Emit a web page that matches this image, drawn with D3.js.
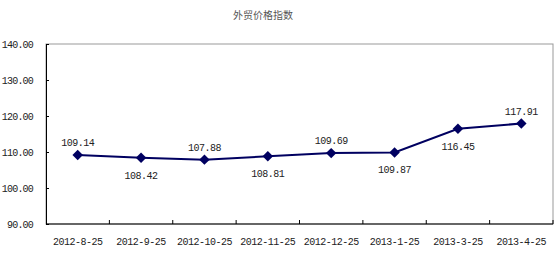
<!DOCTYPE html>
<html>
<head>
<meta charset="utf-8">
<script src="https://cdn.jsdelivr.net/npm/d3@7"></script>
<style>
  body { margin: 0; background: #fff; }
</style>
</head>
<body>
<svg id="chart" width="560" height="257"></svg>
<script>
const categories = ['2012-8-25', '2012-9-25', '2012-10-25', '2012-11-25', '2012-12-25', '2013-1-25', '2013-3-25', '2013-4-25'];
const values = [109.14, 108.42, 107.88, 108.81, 109.69, 109.87, 116.45, 117.91];
// label above (true) or below (false) the point
const labelAbove = [true, false, true, false, true, false, false, true];
const yTicks = [90, 100, 110, 120, 130, 140];

const svg = d3.select('#chart');
const margin = { left: 46, right: 7, top: 44, bottom: 33 };
const w = 560, h = 257;
const mono = '"Liberation Mono", "DejaVu Sans Mono", monospace';

const x = d3.scaleBand().domain(categories).range([margin.left, w - margin.right]);
const y = d3.scaleLinear().domain([90, 140]).range([h - margin.bottom, margin.top]);

// title
svg.append('text')
  .attr('x', 263).attr('y', 19)
  .attr('text-anchor', 'middle')
  .attr('font-family', '"Noto Sans CJK SC", sans-serif')
  .attr('font-size', 10).attr('fill', '#555')
  .text('外贸价格指数');

// plot frame (top/right gray)
svg.append('rect')
  .attr('x', margin.left).attr('y', margin.top)
  .attr('width', w - margin.right - margin.left)
  .attr('height', h - margin.bottom - margin.top)
  .attr('fill', 'none').attr('stroke', '#999');

// y axis
const yAxis = svg.append('g')
  .attr('transform', `translate(${margin.left},0)`)
  .call(d3.axisLeft(y).tickValues(yTicks).tickSize(-3).tickPadding(13).tickFormat(d3.format('.2f')));
yAxis.select('.domain').attr('stroke', '#000');
yAxis.selectAll('line').attr('stroke', '#000');
yAxis.selectAll('text').attr('font-size', 10).attr('fill', '#222')
  .attr('font-family', mono).attr('letter-spacing', -0.8);

// x axis: ticks at band boundaries
const xAxis = svg.append('g')
  .attr('transform', `translate(0,${h - margin.bottom})`);
xAxis.append('line')
  .attr('x1', margin.left).attr('x2', w - margin.right)
  .attr('stroke', '#000');
xAxis.selectAll('line.tick').data(categories.slice(1))
  .enter().append('line').attr('class', 'tick')
  .attr('x1', d => x(d)).attr('x2', d => x(d))
  .attr('y1', 0).attr('y2', -4).attr('stroke', '#000');
xAxis.append('line')
  .attr('x1', w - margin.right).attr('x2', w - margin.right)
  .attr('y1', 0).attr('y2', -4).attr('stroke', '#000');
xAxis.selectAll('text').data(categories)
  .enter().append('text')
  .attr('x', d => x(d) + x.bandwidth() / 2).attr('y', 21)
  .attr('text-anchor', 'middle')
  .attr('font-size', 10).attr('fill', '#222')
  .attr('font-family', mono).attr('letter-spacing', -0.5)
  .text(d => d);

const cx = (d, i) => x(categories[i]) + x.bandwidth() / 2;

// line
svg.append('path')
  .datum(values)
  .attr('fill', 'none').attr('stroke', '#000060').attr('stroke-width', 2)
  .attr('d', d3.line().x(cx).y(d => y(d)));

// markers
svg.selectAll('path.marker').data(values)
  .enter().append('path').attr('class', 'marker')
  .attr('d', d3.symbol().type(d3.symbolDiamond2).size(70))
  .attr('transform', (d, i) => `translate(${cx(d, i)},${y(d)})`)
  .attr('fill', '#000060');

// data labels
svg.selectAll('text.label').data(values)
  .enter().append('text').attr('class', 'label')
  .attr('x', cx)
  .attr('y', (d, i) => y(d) + (labelAbove[i] ? -9 : 21))
  .attr('text-anchor', 'middle')
  .attr('font-size', 10).attr('fill', '#222')
  .attr('font-family', mono).attr('letter-spacing', -0.5)
  .text(d => d.toFixed(2));
</script>
</body>
</html>
